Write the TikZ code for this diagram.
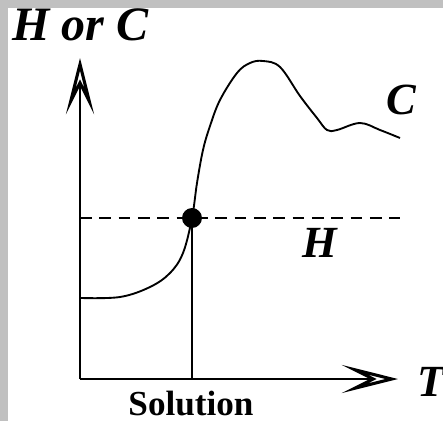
\documentclass[tikz,border=0pt]{standalone}
\usepackage{fontspec}
\setmainfont{Liberation Serif}
\usepackage{tikz}
\usetikzlibrary{arrows.meta}
\definecolor{figband}{RGB}{192,192,192}
\tikzset{
  ax/.style   ={draw=black, line width=2.4pt, -{Stealth[open, length=48pt, width=24pt, inset=24pt, line width=2.6pt]}},
  crv/.style  ={draw=black, line width=1.6pt},
  dsh/.style  ={draw=black, line width=1.2pt, dash pattern=on 10pt off 6.5pt},
  thn/.style  ={draw=black, line width=1.2pt},
  lab/.style  ={font=\fontsize{38}{40}\selectfont\bfseries\itshape, inner sep=0pt},
  labs/.style ={font=\fontsize{30}{32}\selectfont\bfseries, inner sep=0pt, text depth=0pt},
  solpt/.style={circle, fill=black, minimum size=17pt, inner sep=0pt},
}

\begin{document}
\begin{tikzpicture}[x=0.03cm,y=-0.03cm]
  \useasboundingbox (0,0) rectangle (443,421);
  \fill[white] (0,0) rectangle (443,421);
  \fill[figband] (0,0) rectangle (443,8);
  \fill[figband] (0,0) rectangle (8,421);
  % axes
  \coordinate (o) at (80,379);
  \coordinate (ytip) at (80,58);
  \coordinate (xtip) at (398,379);
  \coordinate (hleft) at (80,218);
  \coordinate (hright) at (400,218);
  \coordinate (foot) at (192,379);
  \draw[dsh] (hleft) -- (hright);
  \draw[crv] plot[smooth,tension=0.6] coordinates {(81,298) (120,297) (150,287) (170,273) (183,253) (192,218)
    (197,183) (203,150) (210,126) (220,100) (237,73) (250,63) (263,61) (280,67) (300,96) (317,118)
    (327,130) (337,130) (360,123) (380,130) (400,138)};
  \node[solpt] (sol) at (192,218) {};
  \draw[thn] (sol) -- (foot);
  \draw[ax] (o) -- (ytip);
  \draw[ax] (o) -- (xtip);
  % labels
  \node[lab,anchor=base west] (yname) at (12,40) {\fontsize{41}{42}\selectfont H or C};
  \node[lab,anchor=base west] (cname) at (386,114) {C};
  \node[lab,anchor=base west] (hname) at (302,257) {H};
  \node[lab,anchor=base west] (tname) at (417,396) {T};
  \node[labs,anchor=base] (solname) at (191,415) {Solution};
\end{tikzpicture}
\end{document}
